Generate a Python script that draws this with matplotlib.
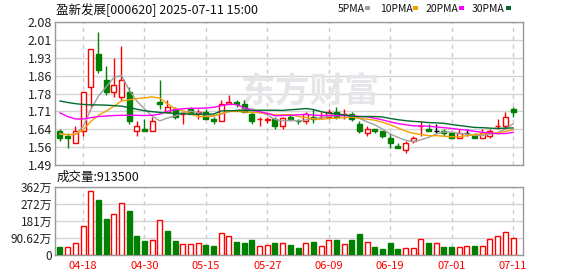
import numpy as np
import matplotlib
matplotlib.use("Agg")
import matplotlib.pyplot as plt
from matplotlib.patches import Rectangle

plt.rcParams['font.family'] = ['Noto Sans CJK SC', 'DejaVu Sans']

# daily bars, 2025-04-15 .. 2025-07-11
dates = ['04-15', '04-16', '04-17', '04-18', '04-21', '04-22', '04-23', '04-24', '04-25', '04-28',
         '04-29', '04-30', '05-06', '05-07', '05-08', '05-09', '05-12', '05-13', '05-14', '05-15',
         '05-16', '05-19', '05-20', '05-21', '05-22', '05-23', '05-26', '05-27', '05-28', '05-29',
         '05-30', '06-03', '06-04', '06-05', '06-06', '06-09', '06-10', '06-11', '06-12', '06-13',
         '06-16', '06-17', '06-18', '06-19', '06-20', '06-23', '06-24', '06-25', '06-26', '06-27',
         '06-30', '07-01', '07-02', '07-03', '07-04', '07-07', '07-08', '07-09', '07-10', '07-11']

open_p = [1.63, 1.61, 1.58, 1.63, 1.81, 1.95, 1.84, 1.79, 1.77, 1.79,
          1.63, 1.64, 1.63, 1.75, 1.71, 1.72, 1.70, 1.72, 1.70, 1.71,
          1.68, 1.67, 1.74, 1.75, 1.74, 1.70, 1.68, 1.675, 1.68, 1.65,
          1.69, 1.67, 1.67, 1.69, 1.69, 1.69, 1.71, 1.70, 1.70, 1.66,
          1.62, 1.64, 1.63, 1.60, 1.57, 1.55, 1.59, 1.65, 1.64, 1.63,
          1.63, 1.62, 1.60, 1.62, 1.61, 1.60, 1.61, 1.65, 1.65, 1.72]
high_p = [1.64, 1.62, 1.65, 1.79, 1.97, 2.04, 1.90, 1.93, 1.98, 1.81,
          1.67, 1.68, 1.69, 1.84, 1.76, 1.73, 1.71, 1.73, 1.72, 1.72,
          1.69, 1.76, 1.78, 1.76, 1.76, 1.71, 1.69, 1.69, 1.69, 1.69,
          1.70, 1.68, 1.71, 1.72, 1.71, 1.72, 1.73, 1.72, 1.71, 1.67,
          1.65, 1.64, 1.63, 1.62, 1.58, 1.59, 1.61, 1.67, 1.66, 1.66,
          1.64, 1.62, 1.64, 1.64, 1.62, 1.64, 1.64, 1.68, 1.71, 1.73]
low_p = [1.59, 1.56, 1.58, 1.61, 1.73, 1.87, 1.78, 1.77, 1.76, 1.66,
         1.61, 1.63, 1.63, 1.72, 1.71, 1.68, 1.66, 1.70, 1.68, 1.68,
         1.66, 1.67, 1.74, 1.73, 1.71, 1.66, 1.65, 1.665, 1.64, 1.64,
         1.67, 1.66, 1.66, 1.665, 1.68, 1.68, 1.68, 1.68, 1.67, 1.62,
         1.61, 1.62, 1.60, 1.56, 1.56, 1.54, 1.58, 1.61, 1.63, 1.62,
         1.61, 1.60, 1.60, 1.61, 1.60, 1.60, 1.60, 1.64, 1.64, 1.69]
close_p = [1.60, 1.60, 1.63, 1.79, 1.97, 1.88, 1.79, 1.82, 1.84, 1.67,
           1.65, 1.63, 1.67, 1.74, 1.73, 1.69, 1.70, 1.70, 1.71, 1.68,
           1.67, 1.74, 1.75, 1.74, 1.71, 1.67, 1.68, 1.68, 1.65, 1.685,
           1.68, 1.67, 1.70, 1.68, 1.69, 1.71, 1.69, 1.70, 1.68, 1.63,
           1.64, 1.63, 1.61, 1.58, 1.56, 1.58, 1.60, 1.65, 1.63, 1.63,
           1.62, 1.60, 1.62, 1.62, 1.60, 1.62, 1.63, 1.65, 1.69, 1.71]
prev_close = 1.62  # close of the day before the first bar

# volume in 万 shares
volume_wan = [44, 44, 62, 154, 340, 292, 191, 216, 279, 233,
              101, 74, 80, 189, 127, 74, 58, 58, 65, 53,
              48, 115, 103, 67, 62, 78, 48, 53, 62, 62,
              53, 35, 62, 67, 48, 80, 80, 57, 80, 111,
              67, 42, 32, 62, 32, 35, 35, 83, 62, 62,
              42, 42, 42, 48, 48, 48, 83, 101, 120, 91.35]

ma5 = [1.620, 1.615, 1.615, 1.648, 1.718, 1.774, 1.812, 1.850, 1.860, 1.800,
       1.754, 1.722, 1.692, 1.672, 1.684, 1.692, 1.706, 1.712, 1.706, 1.696,
       1.692, 1.700, 1.710, 1.716, 1.722, 1.722, 1.710, 1.696, 1.678, 1.672,
       1.674, 1.672, 1.676, 1.682, 1.684, 1.690, 1.694, 1.694, 1.694, 1.682,
       1.668, 1.656, 1.638, 1.618, 1.604, 1.592, 1.586, 1.594, 1.604, 1.618,
       1.626, 1.626, 1.620, 1.618, 1.612, 1.612, 1.618, 1.624, 1.638, 1.660]
ma10 = [1.617, 1.615, 1.617, 1.634, 1.669, 1.695, 1.712, 1.732, 1.754, 1.759,
        1.764, 1.767, 1.771, 1.766, 1.742, 1.723, 1.714, 1.702, 1.689, 1.690,
        1.692, 1.703, 1.711, 1.711, 1.709, 1.707, 1.705, 1.703, 1.697, 1.697,
        1.698, 1.691, 1.686, 1.680, 1.678, 1.682, 1.683, 1.685, 1.688, 1.683,
        1.679, 1.675, 1.666, 1.656, 1.643, 1.630, 1.621, 1.616, 1.611, 1.611,
        1.609, 1.606, 1.607, 1.611, 1.615, 1.619, 1.622, 1.622, 1.628, 1.636]
ma20 = [1.705, 1.690, 1.680, 1.680, 1.685, 1.690, 1.692, 1.694, 1.695, 1.695,
        1.695, 1.694, 1.695, 1.700, 1.712, 1.718, 1.722, 1.724, 1.724, 1.725,
        1.728, 1.735, 1.741, 1.739, 1.726, 1.715, 1.710, 1.703, 1.693, 1.694,
        1.695, 1.697, 1.699, 1.696, 1.694, 1.695, 1.694, 1.694, 1.693, 1.690,
        1.689, 1.683, 1.676, 1.668, 1.661, 1.656, 1.652, 1.651, 1.650, 1.647,
        1.644, 1.641, 1.637, 1.634, 1.629, 1.625, 1.622, 1.619, 1.620, 1.624]
ma30 = [1.754, 1.748, 1.743, 1.740, 1.738, 1.738, 1.737, 1.735, 1.733, 1.727,
        1.720, 1.714, 1.710, 1.707, 1.705, 1.703, 1.702, 1.700, 1.700, 1.700,
        1.700, 1.713, 1.714, 1.714, 1.715, 1.715, 1.716, 1.716, 1.716, 1.715,
        1.718, 1.720, 1.723, 1.719, 1.710, 1.704, 1.701, 1.697, 1.691, 1.690,
        1.690, 1.690, 1.688, 1.682, 1.677, 1.673, 1.670, 1.668, 1.665, 1.664,
        1.662, 1.657, 1.653, 1.649, 1.645, 1.644, 1.642, 1.641, 1.642, 1.643]

label_dates = ['04-18', '04-30', '05-15', '05-27', '06-09', '06-19', '07-01', '07-11']
price_ticks = [1.49, 1.56375, 1.6375, 1.71125, 1.785, 1.85875, 1.9325, 2.00625, 2.08]
price_labels = ['1.49', '1.56', '1.64', '1.71', '1.78', '1.86', '1.93', '2.01', '2.08']
vol_ticks_wan = [0, 90.625, 181.25, 271.875, 362.5]
vol_labels = ['0', '90.62万', '181万', '272万', '362万']

RED = '#FF0000'
GREEN = '#008000'
GRID = '#D4D4D4'
FRAME = '#999999'
ma_styles = [('5PMA', ma5, '#A0A0A0'), ('10PMA', ma10, '#F5A000'),
             ('20PMA', ma20, '#FF00FF'), ('30PMA', ma30, '#006B2E')]

W, H = 578, 276
fig = plt.figure(figsize=(W / 100, H / 100), dpi=100)


def box(left, top, right, bottom):
    return [left / W, 1 - bottom / H, (right - left) / W, (bottom - top) / H]


ax = fig.add_axes(box(55, 22, 523, 165))
axv = fig.add_axes(box(55, 187, 523, 255))

x = np.arange(len(dates))
o = np.array(open_p)
h = np.array(high_p)
l = np.array(low_p)
c = np.array(close_p)
prev = np.concatenate([[prev_close], c[:-1]])

candle_col = []
for oi, ci, pi in zip(o, c, prev):
    if ci > oi or (ci == oi and ci > pi):
        candle_col.append(RED)
    elif ci < oi or ci < pi:
        candle_col.append(GREEN)
    else:
        candle_col.append('black')
face = ['white' if col == RED else col for col in candle_col]

tick_pos = [dates.index(d) for d in label_dates]
xlim = (-0.65, len(dates) + 0.3)

# price panel
for yt in price_ticks:
    ax.axhline(yt, color=GRID, lw=1, zorder=0)
for p in tick_pos:
    ax.axvline(p, color='#CCCCCC', lw=1, ls=(0, (3, 3)), zorder=0)
ax.text(0.545, 0.52, '东方财富', transform=ax.transAxes, fontsize=25, fontweight='bold',
        color='#E6E6EA', ha='center', va='center', zorder=1)

ax.vlines(x, l, h, colors=candle_col, lw=1, zorder=2)
ax.bar(x, np.abs(c - o), bottom=np.minimum(o, c), width=0.65, color=face,
       edgecolor=candle_col, lw=1, zorder=3)
for name, vals, col in ma_styles:
    ax.plot(x, vals, color=col, lw=1, zorder=4)

ax.set_xlim(*xlim)
ax.set_ylim(price_ticks[0], price_ticks[-1])
ax.set_yticks(price_ticks, price_labels)
ax.set_xticks([])
ax.tick_params(axis='y', length=0, pad=2, labelsize=9, labelcolor='#222222')

# volume panel
vol = np.array(volume_wan)
vol_col = [RED if ci >= pi else GREEN for ci, pi in zip(c, prev)]
vol_face = ['white' if col == RED else col for col in vol_col]
for yt in vol_ticks_wan:
    axv.axhline(yt, color=GRID, lw=1, zorder=0)
for p in tick_pos:
    axv.axvline(p, color='#CCCCCC', lw=1, ls=(0, (3, 3)), zorder=0)
axv.bar(x, vol, width=0.65, color=vol_face, edgecolor=vol_col, lw=1, zorder=3)
axv.set_xlim(*xlim)
axv.set_ylim(0, vol_ticks_wan[-1])
axv.set_yticks(vol_ticks_wan, vol_labels)
axv.set_xticks(tick_pos, label_dates)
axv.tick_params(axis='y', length=0, pad=2, labelsize=8.5, labelcolor='#222222')
axv.tick_params(axis='x', length=0, pad=4, labelsize=8, labelcolor=RED)

for a in (ax, axv):
    for s in a.spines.values():
        s.set_color(FRAME)
        s.set_linewidth(1)

# header texts
fig.text(56 / W, 1 - 10 / H, '盈新发展[000620] 2025-07-11 15:00', fontsize=9,
         ha='left', va='center', color='#111111')
fig.text(57 / W, 1 - 177 / H, '成交量:' + str(int(volume_wan[-1] * 10000)), fontsize=9,
         ha='left', va='center', color='#111111')

legend_x = [338, 380, 425.5, 471.5]
swatch_x = [365, 413, 459, 506]
for (name, vals, col), tx, sx in zip(ma_styles, legend_x, swatch_x):
    fig.text(tx / W, 1 - 9 / H, name, fontsize=7.5, ha='left', va='center', color='#111111')
    fig.add_artist(Rectangle((sx / W, 1 - 9.5 / H), 5 / W, 3 / H, transform=fig.transFigure,
                             facecolor=col, edgecolor='none'))

fig.savefig('out.png', dpi=100)
